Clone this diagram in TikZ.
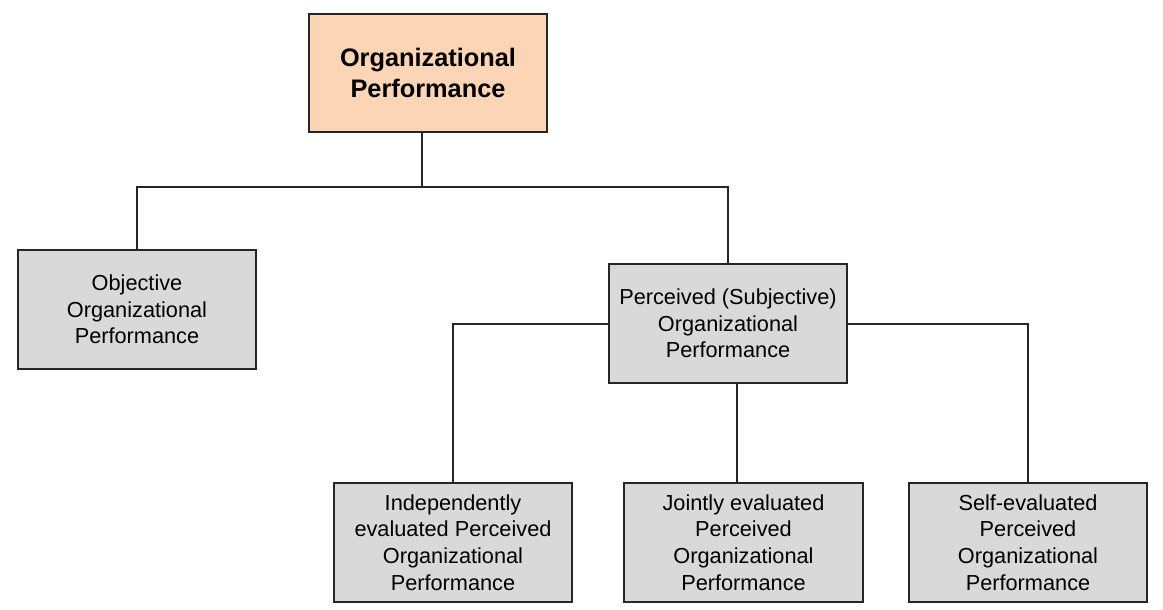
\documentclass[tikz,border=0pt]{standalone}
\usepackage{fontspec}
\setmainfont{Liberation Sans}
\definecolor{peach}{HTML}{FBD5B5}
\definecolor{boxgray}{HTML}{D9D9D9}
\begin{document}
\begin{tikzpicture}[x=0.75pt,y=-0.75pt,
  box/.style={draw=black!85,line width=1.5pt,fill=boxgray,minimum width=179pt,minimum height=89pt,
    align=center,inner sep=2pt,font=\fontsize{16.3}{20}\selectfont},
  topbox/.style={box,fill=peach,font=\fontsize{19}{23}\selectfont\bfseries},
  conn/.style={draw=black!85,line width=1.5pt}]
\useasboundingbox (0,0) rectangle (1163,610);
\node[topbox] (op) at (428,73) {Organizational\\Performance};
\node[box] (obj) at (137,309.5) {Objective\\Organizational\\Performance};
\node[box] (perc) at (728,323.5) {Perceived (Subjective)\\Organizational\\Performance};
\node[box] (ind) at (453,542.5) {Independently\\evaluated Perceived\\Organizational\\Performance};
\node[box] (joint) at (743.5,542.5) {Jointly evaluated\\Perceived\\Organizational\\Performance};
\node[box] (self) at (1028,542.5) {Self-evaluated\\Perceived\\Organizational\\Performance};
\coordinate (j1) at (422,187);
\coordinate (j2) at (737,383);
\draw[conn] (op.south -| j1) -- (j1);
\draw[conn] (obj.north) |- (j1) -| (perc.north);
\draw[conn] (perc.west) -| (ind.north);
\draw[conn] (perc.east) -| (self.north);
\draw[conn] (j2) -- (j2 |- joint.north);
\end{tikzpicture}
\end{document}
